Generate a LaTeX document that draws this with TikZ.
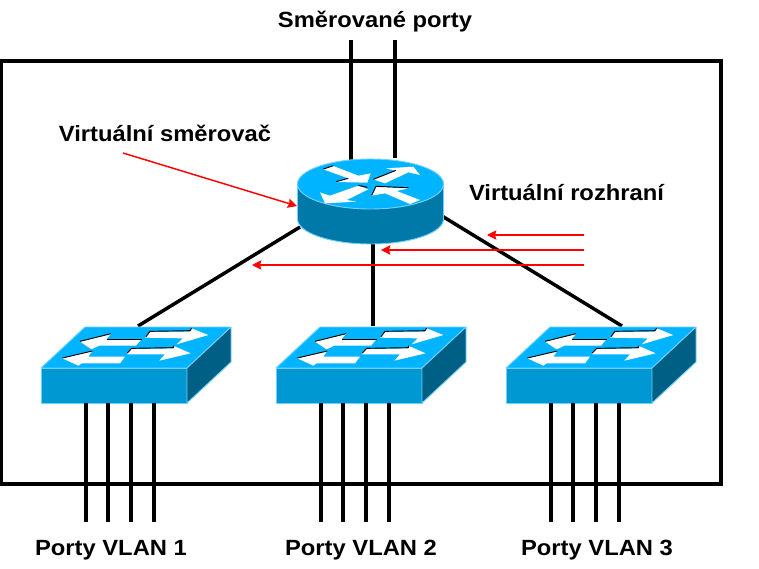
\documentclass[tikz,border=0pt]{standalone}
\usepackage{fontspec}
\setmainfont{Liberation Sans}
\newfontfamily\labelfont[FakeStretch=1.08]{Liberation Sans}
\usetikzlibrary{arrows.meta}
\definecolor{topblue}{HTML}{00B4FF}
\definecolor{drumblue}{HTML}{0079A8}
\definecolor{frontblue}{HTML}{0098D2}
\definecolor{sideblue}{HTML}{005F85}
\definecolor{edgeblue}{HTML}{70D0FF}
\tikzset{
  wire/.style={line width=2.6pt,black,line cap=butt},
  frameline/.style={line width=3pt,black},
  pointer/.style={red,line width=1.1pt,-{Stealth[length=7pt,width=7pt,inset=1pt]}},
  label/.style={font=\labelfont\fontsize{16.5pt}{18pt}\selectfont\bfseries,inner sep=0pt,anchor=base},
  flow/.style={fill=white,draw=none},
  shade line/.style={black,line width=0.7pt},
  face/.style={draw=edgeblue,line width=0.7pt,line join=round}
}
% One LAN switch; #1 is its horizontal offset, #2 the prefix of its anchor names
\newcommand{\lanswitch}[2]{
  \begin{scope}[shift={(#1,0)}]
    \coordinate (#2a) at (86,403);
    \coordinate (#2b) at (108,403);
    \coordinate (#2c) at (131,403);
    \coordinate (#2d) at (154,403);
    \coordinate (#2ae) at (86,522);
    \coordinate (#2be) at (108,522);
    \coordinate (#2ce) at (131,522);
    \coordinate (#2de) at (154,522);
    \draw[face,fill=topblue] (41,368) -- (85,327) -- (231,327) -- (187,368) -- cycle;
    \draw[face,fill=frontblue] (41,368) rectangle (187,403);
    \draw[face,fill=sideblue] (187,368) -- (231,327) -- (231,362) -- (187,403) -- cycle;
    \begin{scope}[shift={(30,315)},x=0.25pt,y=-0.25pt]
      \fill[flow] (150,80) -- (243,57) -- (230,72) -- (335,72) -- (318,92) -- (208,92) -- (185,103) -- cycle;
      \fill[flow] (348,65) -- (360,50) -- (480,50) -- (485,40) -- (535,60) -- (440,88) -- (458,70) -- (345,68) -- cycle;
      \fill[flow] (97,130) -- (187,108) -- (175,125) -- (285,125) -- (270,145) -- (155,145) -- (145,152) -- cycle;
      \fill[flow] (292,115) -- (305,102) -- (430,100) -- (432,93) -- (482,115) -- (388,137) -- (405,118) -- (292,118) -- cycle;
      \draw[shade line] (150,79) -- (243,56);
      \draw[shade line] (230,72) -- (335,72);
      \draw[shade line] (348,65) -- (360,49) -- (480,47) -- (485,39);
      \draw[shade line] (97,129) -- (187,108);
      \draw[shade line] (292,114) -- (305,100) -- (430,98) -- (432,92);
    \end{scope}
  \end{scope}
}
\begin{document}
\begin{tikzpicture}[x=0.75pt,y=-0.75pt]
  \useasboundingbox (0,0) rectangle (759,568);
  \fill[white] (0,0) rectangle (759,568);

  % Chassis outline
  \draw[frameline] (1,61) rectangle (721,484);

  % Anchors of the router
  \coordinate (rtop1) at (351,160);
  \coordinate (rtop2) at (395,158);
  \coordinate (rleft) at (300,227);
  \coordinate (rbottom) at (373,240);
  \coordinate (rright) at (442,216);
  \coordinate (rside) at (297,206);

  % Text labels
  \node[label] (routed) at (375,27) {Směrované porty};
  \node[label] (vrouter) at (165,141) {Virtuální směrovač};
  \node[label] (vif) at (566.5,200.5) {Virtuální rozhraní};
  \node[label] (vlan1) at (111,555) {Porty VLAN 1};
  \node[label] (vlan2) at (361,555) {Porty VLAN 2};
  \node[label] (vlan3) at (597,555) {Porty VLAN 3};

  % Routed uplinks
  \coordinate (up1) at (351,40);
  \coordinate (up2) at (395,40);
  \draw[wire] (up1) -- (rtop1);
  \draw[wire] (up2) -- (rtop2);

  % Trunks between the router and the switches
  \coordinate (s1link) at (138,326);
  \coordinate (s2link) at (373,326);
  \coordinate (s3link) at (622,326);
  \draw[wire] (rleft) -- (s1link);
  \draw[wire] (rbottom) -- (s2link);
  \draw[wire] (rright) -- (s3link);

  % Switches
  \lanswitch{0}{s}
  \lanswitch{235}{t}
  \lanswitch{465}{u}

  % Access ports
  \foreach \sw in {s,t,u}
    \foreach \p in {a,b,c,d}
      \draw[wire] (\sw\p) -- (\sw\p e);

  % Router drum and lid
  \draw[face,fill=drumblue] (297.5,184) -- (297.5,219) arc[start angle=180,end angle=0,x radius=73,y radius=25] -- (443.5,184) -- cycle;
  \draw[face,fill=topblue] (370.5,184) ellipse[x radius=73,y radius=25];

  % Router arrows
  \begin{scope}[shift={(280,140)},x=0.25pt,y=-0.25pt]
    \fill[flow] (130,88) -- (160,78) -- (235,107) -- (272,100) -- (262,128) -- (168,126) -- (205,115) -- cycle;
    \fill[flow] (280,118) -- (348,92) -- (318,85) -- (400,80) -- (420,105) -- (385,97) -- (315,130) -- cycle;
    \fill[flow] (265,148) -- (200,180) -- (230,185) -- (135,190) -- (120,157) -- (150,167) -- (235,137) -- cycle;
    \fill[flow] (275,167) -- (288,140) -- (385,145) -- (350,153) -- (420,180) -- (390,192) -- (315,160) -- cycle;
    \draw[shade line] (130,87) -- (160,77);
    \draw[shade line] (168,125) -- (205,115);
    \draw[shade line] (280,118) -- (348,91);
    \draw[shade line] (235,136) -- (262,142);
    \draw[shade line] (275,166) -- (288,139) -- (385,143);
  \end{scope}

  % Pointers to the virtual interfaces and to the router
  \coordinate (src1) at (584,235);
  \coordinate (dst1) at (487,235);
  \coordinate (src2) at (584,250);
  \coordinate (dst2) at (381,250);
  \coordinate (src3) at (584,265);
  \coordinate (dst3) at (252,265);
  \coordinate (src4) at (123,153);
  \draw[pointer] (src1) -- (dst1);
  \draw[pointer] (src2) -- (dst2);
  \draw[pointer] (src3) -- (dst3);
  \draw[pointer] (src4) -- (rside);
\end{tikzpicture}
\end{document}
